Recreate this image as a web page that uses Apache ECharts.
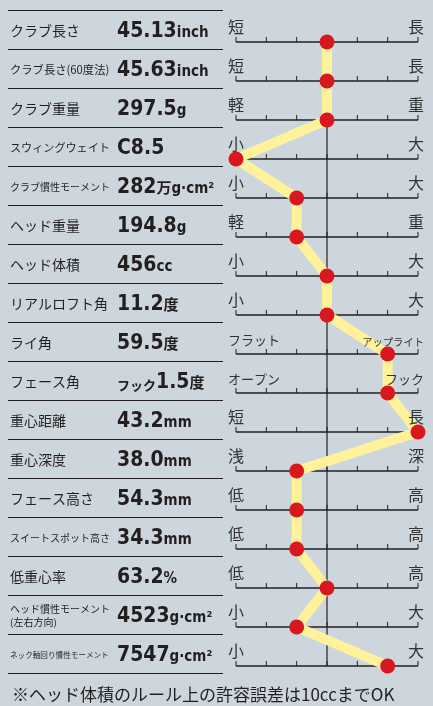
<!DOCTYPE html>
<html>
<head>
<meta charset="utf-8">
<script src="https://cdn.jsdelivr.net/npm/echarts@6/dist/echarts.min.js"></script>
<style>
  body { margin: 0; background: #cdd6dc; }
  #main { width: 433px; height: 706px; }
</style>
</head>
<body>
<div id="main"></div>
<script>
  // 項目名と数値
  var itemNames = ['クラブ長さ', 'クラブ長さ(60度法)', 'クラブ重量', 'スウィングウェイト', 'クラブ慣性モーメント',
    'ヘッド重量', 'ヘッド体積', 'リアルロフト角', 'ライ角', 'フェース角', '重心距離', '重心深度',
    'フェース高さ', 'スイートスポット高さ', '低重心率', 'ヘッド慣性モーメント\n(左右方向)', 'ネック軸回り慣性モーメント']
  var valuePrefixes = ['', '', '', '', '', '', '', '', '', 'フック', '', '', '', '', '', '', '']
  var valueNumbers = ['45.13', '45.63', '297.5', 'C8.5', '282', '194.8', '456', '11.2', '59.5', '1.5',
    '43.2', '38.0', '54.3', '34.3', '63.2', '4523', '7547']
  var valueUnits = ['inch', 'inch', 'g', '', '万g·cm²', 'g', 'cc', '度', '度', '度',
    'mm', 'mm', 'mm', 'mm', '%', 'g·cm²', 'g·cm²']
  // 評価スケール
  var scaleLow = ['短', '短', '軽', '小', '小', '軽', '小', '小', 'フラット', 'オープン', '短', '浅', '低', '低', '低', '小', '小']
  var scaleHigh = ['長', '長', '重', '大', '大', '重', '大', '大', 'アップライト', 'フック', '長', '深', '高', '高', '高', '大', '大']
  var scaleTicks = [0, 1, 2, 3, 4, 5, 6]
  var positions = [3, 3, 3, 0, 2, 2, 3, 3, 5, 5, 6, 2, 2, 2, 3, 2, 5]
  var footNote = '※ヘッド体積のルール上の許容誤差は10ccまでOK'

  var JP = "'Noto Sans CJK JP', sans-serif"
  var NUM = "'DejaVu Sans Condensed', 'Roboto', 'Noto Sans CJK JP', sans-serif"
  var INK = '#231f20'

  // 長い文字は縮小して幅に収める
  var ctx = document.createElement('canvas').getContext('2d')
  function fitSize(text, base, maxW) {
    ctx.font = base + 'px ' + JP
    var w = 0
    text.split('\n').forEach(function (l) { w = Math.max(w, ctx.measureText(l).width) })
    return Math.min(base, Math.floor(base * maxW / w * 10) / 10)
  }

  var rowData = itemNames.map(function (n, i) { return [0, i] })

  var myChart = echarts.init(document.getElementById('main'))
  var option = {
    backgroundColor: '#cdd6dc',
    animation: false,
    title: {
      text: footNote,
      left: 7,
      top: 681,
      textStyle: { fontFamily: JP, fontSize: 17, fontWeight: 'normal', color: INK }
    },
    grid: [
      { left: 8, top: 10, width: 215, height: 663 },
      { left: 236, top: 42, width: 182, height: 624 }
    ],
    xAxis: [
      { gridIndex: 0, type: 'value', min: 0, max: 1, show: false },
      { gridIndex: 1, type: 'value', min: 0, max: 6, interval: 1, show: false }
    ],
    yAxis: [
      {
        gridIndex: 0, type: 'category', data: itemNames, inverse: true, boundaryGap: true,
        axisLine: { show: false }, axisTick: { show: false }, axisLabel: { show: false },
        splitLine: { show: true, lineStyle: { color: INK, width: 1 } }
      },
      { gridIndex: 1, type: 'category', data: itemNames, inverse: true, boundaryGap: false, show: false }
    ],
    series: [{
      // 左側の項目名と数値
      type: 'custom',
      xAxisIndex: 0,
      yAxisIndex: 0,
      silent: true,
      data: rowData,
      renderItem: function (params, api) {
        var i = api.value(1)
        var pt = api.coord([0, i])
        var name = itemNames[i]
        var fs = fitSize(name, 14, 100)
        var valText = (valuePrefixes[i] ? '{p|' + valuePrefixes[i] + '}' : '') +
          '{v|' + valueNumbers[i] + '}' + (valueUnits[i] ? '{u|' + valueUnits[i] + '}' : '')
        return {
          type: 'group',
          children: [{
            type: 'text',
            style: {
              text: name, x: pt[0] + 2, y: pt[1] + 1.5, fill: INK,
              fontFamily: JP, fontSize: fs, lineHeight: Math.round(fs * 1.3),
              align: 'left', verticalAlign: 'middle'
            }
          }, {
            type: 'text',
            style: {
              text: valText, x: pt[0] + 109, y: pt[1] + 1.5,
              align: 'left', verticalAlign: 'middle',
              rich: {
                p: { fontFamily: JP, fontSize: 13, fontWeight: 'bold', fill: INK, verticalAlign: 'bottom', lineHeight: 22, padding: [0, 0, 1, 0] },
                v: { fontFamily: NUM, fontSize: 21, fontWeight: 'bold', fill: INK, verticalAlign: 'bottom', lineHeight: 22 },
                u: { fontFamily: NUM, fontSize: 15, fontWeight: 'bold', fill: INK, verticalAlign: 'bottom', lineHeight: 22, padding: [0, 0, 1, 0] }
              }
            }
          }]
        }
      }
    }, {
      // 右側のスケール線と目盛り
      type: 'custom',
      xAxisIndex: 1,
      yAxisIndex: 1,
      silent: true,
      z: 1,
      data: rowData,
      renderItem: function (params, api) {
        var i = api.value(1)
        var a = api.coord([scaleTicks[0], i])
        var b = api.coord([scaleTicks[scaleTicks.length - 1], i])
        var children = [{
          type: 'line',
          shape: { x1: a[0], y1: a[1], x2: b[0], y2: b[1] },
          style: { stroke: INK, lineWidth: 1.3 }
        }]
        scaleTicks.forEach(function (t) {
          var p = api.coord([t, i])
          children.push({
            type: 'line',
            shape: { x1: p[0], y1: p[1] - 5, x2: p[0], y2: p[1] },
            style: { stroke: INK, lineWidth: 1 }
          })
        })
        if (i === 0) {
          var c1 = api.coord([3, 0])
          var c2 = api.coord([3, itemNames.length - 1])
          children.push({
            type: 'line',
            shape: { x1: c1[0], y1: c1[1], x2: c2[0], y2: c2[1] },
            style: { stroke: INK, lineWidth: 1.2 }
          })
        }
        return { type: 'group', children: children }
      }
    }, {
      type: 'line',
      xAxisIndex: 1,
      yAxisIndex: 1,
      z: 3,
      silent: true,
      clip: false,
      data: positions.map(function (p, i) { return [p, i] }),
      symbol: 'circle',
      symbolSize: 15,
      lineStyle: { color: '#fff29a', width: 10 },
      itemStyle: { color: '#d8171f' }
    }, {
      // スケール両端の文字(線より上に描く)
      type: 'custom',
      xAxisIndex: 1,
      yAxisIndex: 1,
      silent: true,
      z: 4,
      data: rowData,
      renderItem: function (params, api) {
        var i = api.value(1)
        var a = api.coord([scaleTicks[0], i])
        var b = api.coord([scaleTicks[scaleTicks.length - 1], i])
        var lo = scaleLow[i], hi = scaleHigh[i]
        return {
          type: 'group',
          children: [{
            type: 'text',
            style: {
              text: lo, x: a[0] - 8, y: a[1] - 7, fill: '#333',
              fontFamily: JP, fontSize: lo.length === 1 ? 16 : fitSize(lo, 13, 62),
              align: 'left', verticalAlign: 'bottom'
            }
          }, {
            type: 'text',
            style: {
              text: hi, x: b[0] + 6, y: b[1] - 7, fill: '#333',
              fontFamily: JP, fontSize: hi.length === 1 ? 16 : fitSize(hi, 13, 62),
              align: 'right', verticalAlign: 'bottom'
            }
          }]
        }
      }
    }]
  }
  option && myChart.setOption(option)
  window.addEventListener('resize', myChart.resize)
</script>
</body>
</html>
